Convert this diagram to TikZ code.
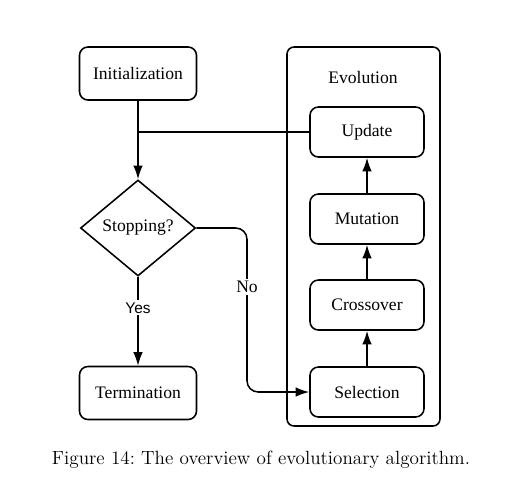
\documentclass[tikz,border=0pt]{standalone}
\usepackage{fontspec}
\usepackage{tikz}
\usetikzlibrary{shapes.geometric, arrows.meta, positioning, calc}
\newfontfamily\boxfont{Liberation Serif}
\newfontfamily\yesfont{Liberation Sans}

\begin{document}
\begin{tikzpicture}[
    x=0.025cm, y=-0.025cm,
    stage/.style={draw, rounded corners=6pt, line width=1.1pt,
                  minimum width=2.925cm, minimum height=1.325cm,
                  font=\boxfont\fontsize{12.5}{15}\selectfont},
    substage/.style={stage, minimum width=2.85cm, minimum height=1.25cm},
    decision/.style={draw, diamond, line width=1.1pt, inner sep=0pt,
                     minimum width=2.875cm, minimum height=2.4cm,
                     font=\boxfont\fontsize{12.5}{15}\selectfont},
    flow/.style={-{Latex[length=3.4mm, width=2.4mm]}, line width=1.1pt},
    lbl/.style={fill=white, inner sep=1.5pt},
]
    \useasboundingbox (0,0) rectangle (505,489);

    % Main column
    \node[stage] (init) at (138,73.5) {Initialization};
    \node[decision] (stop) at (138,228) {Stopping?};
    \node[stage] (term) at (138,393) {Termination};

    % Evolution loop
    \draw[line width=1.1pt, rounded corners=5pt] (287,47) rectangle (440,426);
    \node[font=\boxfont\fontsize{12.5}{15}\selectfont] (evo) at (363,77) {Evolution};
    \node[substage] (upd) at (367,132) {Update};
    \node[substage] (mut) at (367,219) {Mutation};
    \node[substage] (cross) at (367,305) {Crossover};
    \node[substage] (sel) at (367,392) {Selection};

    % Caption
    \node[font=\fontsize{13.6}{16}\selectfont] (cap) at (261,460)
        {Figure 14:\ The overview of evolutionary algorithm.};

    % Connections
    \coordinate (join) at (init.south |- upd.west);
    \coordinate (turn) at (247,228);
    \draw[line width=1.1pt] (init) -- (join);
    \draw[line width=1.1pt] (upd) -- (join);
    \draw[flow] (join) -- (stop);
    \draw[flow] (stop) -- (term)
        node[lbl, pos=0.35, font=\yesfont\fontsize{11}{13}\selectfont] {Yes};
    \draw[flow, rounded corners=8pt] (stop.east) -- (turn) |- (sel.west)
        node[lbl, pos=0.18, font=\boxfont\fontsize{12.5}{15}\selectfont] {No};
    \draw[flow] (sel) -- (cross);
    \draw[flow] (cross) -- (mut);
    \draw[flow] (mut) -- (upd);
\end{tikzpicture}
\end{document}
